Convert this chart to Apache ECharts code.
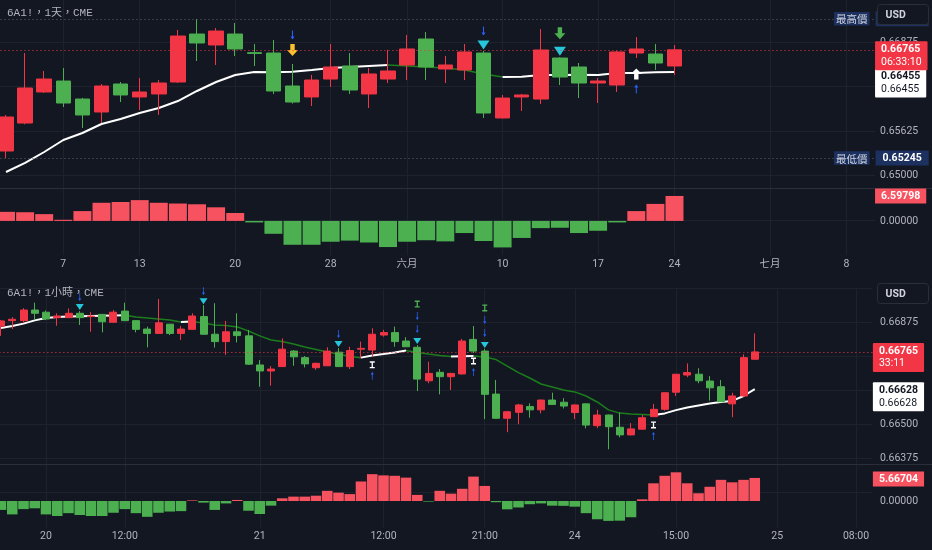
<!DOCTYPE html>
<html><head><meta charset="utf-8">
<script src="https://cdn.jsdelivr.net/npm/echarts@6/dist/echarts.min.js"></script>
<style>html,body{margin:0;padding:0;background:#131722;}#c{width:932px;height:550px;}</style>
</head><body><div id="c"></div>
<script>
// ---------------- DAILY (1天) ----------------
const dailyDates = ['05-02','05-03','05-06','05-07','05-08','05-09','05-10','05-13','05-14','05-15','05-16','05-17','05-20','05-21','05-22','05-23','05-24','05-28','05-29','05-30','05-31','06-03','06-04','06-05','06-06','06-07','06-10','06-11','06-12','06-13','06-14','06-17','06-18','06-20','06-21','06-24','06-25','06-26','06-27','06-28','07-01','07-02','07-03','07-05','07-08','07-09'];
const dailyTickLabels = {'05-07':'7','05-13':'13','05-20':'20','05-28':'28','06-03':'六月','06-10':'10','06-17':'17','06-24':'24','07-01':'七月','07-08':'8'};
const dailyOpen  = [0.65344,0.65737,0.66173,0.66327,0.66074,0.65892,0.66285,0.66103,0.66145,0.66313,0.66987,0.66833,0.66987,0.66725,0.66720,0.66257,0.66103,0.66355,0.66538,0.66145,0.66355,0.66552,0.66917,0.66496,0.66482,0.66720,0.65808,0.66103,0.66074,0.66650,0.66524,0.66299,0.66271,0.66720,0.66706,0.66538];
const dailyClose = [0.65822,0.66229,0.66355,0.66018,0.65850,0.66257,0.66131,0.66173,0.66299,0.66959,0.66861,0.67029,0.66777,0.66715,0.66187,0.66032,0.66341,0.66524,0.66201,0.66426,0.66468,0.66777,0.66524,0.66552,0.66735,0.65878,0.66088,0.66131,0.66763,0.66383,0.66299,0.66327,0.66735,0.66777,0.66580,0.66765];
const dailyLow   = [0.65245,0.65720,0.66160,0.65962,0.65667,0.65737,0.66032,0.65920,0.65850,0.66300,0.66608,0.66552,0.66678,0.66538,0.66145,0.66010,0.65976,0.66243,0.66145,0.65948,0.66299,0.66341,0.66341,0.66299,0.66341,0.65808,0.65800,0.65906,0.66004,0.66271,0.66088,0.66018,0.66173,0.66650,0.66482,0.66412];
const dailyHigh  = [0.65850,0.66720,0.66468,0.66510,0.66090,0.66285,0.66313,0.66369,0.66341,0.67044,0.67200,0.67072,0.67142,0.66847,0.66903,0.66566,0.66412,0.66847,0.66720,0.66510,0.66763,0.66973,0.67015,0.66678,0.66847,0.66750,0.66131,0.66145,0.67058,0.66660,0.66580,0.66369,0.66750,0.66945,0.66847,0.66833];
const dailyMA    = [0.65049,0.65176,0.65330,0.65499,0.65597,0.65723,0.65794,0.65878,0.65948,0.66046,0.66187,0.66313,0.66412,0.66454,0.66450,0.66458,0.66482,0.66510,0.66524,0.66538,0.66552,0.66538,0.66524,0.66510,0.66482,0.66426,0.66383,0.66388,0.66412,0.66410,0.66414,0.66412,0.66440,0.66438,0.66450,0.66455];
const dailyHist  = [2.4,2.3,1.8,0.3,2.6,4.8,5.0,5.5,4.8,4.6,4.4,3.6,2.1,-0.4,-3.4,-6.3,-6.3,-5.5,-5.2,-5.7,-6.9,-5.5,-5.1,-5.4,-3.2,-5.3,-7.0,-4.5,-1.9,-1.8,-3.2,-2.6,-0.4,2.6,4.5,6.59798];
const dailyYellowSignal = [15];
const dailyBlueAboveFar = [15];
const dailyBlueAboveNear = [25];
const dailyCyanSignal = [25, 29];
const dailyGreenArrow = [29];
const dailyWhiteUp = [33];
const dailyCountdown = '06:33:10';

// ---------------- HOURLY (1小時) ----------------
const hourlyTimes = ['06-19 20:00','06-19 21:00','06-19 22:00','06-19 23:00','06-20 00:00','06-20 06:00','06-20 07:00','06-20 08:00','06-20 09:00','06-20 10:00','06-20 11:00','06-20 12:00','06-20 13:00','06-20 14:00','06-20 15:00','06-20 16:00','06-20 17:00','06-20 18:00','06-20 19:00','06-20 20:00','06-20 21:00','06-20 22:00','06-20 23:00','06-21 00:00','06-21 01:00','06-21 02:00','06-21 03:00','06-21 04:00','06-21 06:00','06-21 07:00','06-21 08:00','06-21 09:00','06-21 10:00','06-21 11:00','06-21 12:00','06-21 13:00','06-21 14:00','06-21 15:00','06-21 16:00','06-21 17:00','06-21 18:00','06-21 19:00','06-21 20:00','06-21 21:00','06-21 22:00','06-21 23:00','06-22 00:00','06-22 01:00','06-22 02:00','06-22 03:00','06-22 04:00','06-24 06:00','06-24 07:00','06-24 08:00','06-24 09:00','06-24 10:00','06-24 11:00','06-24 12:00','06-24 13:00','06-24 14:00','06-24 15:00','06-24 16:00','06-24 17:00','06-24 18:00','06-24 19:00','06-24 20:00','06-24 21:00','06-24 22:00','06-24 23:00','06-25 00:00','06-25 01:00','06-25 02:00','06-25 03:00','06-25 04:00','06-25 06:00','06-25 07:00','06-25 08:00','06-25 09:00'];
const hourlyTickLabels = {'06-20 00:00':'20','06-20 12:00':'12:00','06-21 00:00':'21','06-21 12:00':'12:00','06-21 21:00':'21:00','06-24 06:00':'24','06-24 15:00':'15:00','06-25 00:00':'25','06-25 08:00':'08:00'};
const hourlyOpen  = [0.66860,0.66880,0.66880,0.66919,0.66911,0.66891,0.66891,0.66907,0.66895,0.66903,0.66874,0.66915,0.66880,0.66849,0.66833,0.66867,0.66833,0.66848,0.66895,0.66830,0.66803,0.66839,0.66824,0.66717,0.66695,0.66711,0.66768,0.66744,0.66707,0.66714,0.66764,0.66711,0.66775,0.66772,0.66827,0.66836,0.66805,0.66782,0.66659,0.66690,0.66674,0.66684,0.66811,0.66768,0.66610,0.66521,0.66543,0.66564,0.66552,0.66588,0.66580,0.66542,0.66574,0.66494,0.66533,0.66488,0.66460,0.66481,0.66527,0.66554,0.66617,0.66680,0.66683,0.66658,0.66637,0.66574,0.66603,0.66738];
const hourlyClose = [0.66879,0.66885,0.66919,0.66907,0.66886,0.66897,0.66907,0.66891,0.66897,0.66876,0.66911,0.66880,0.66848,0.66833,0.66872,0.66833,0.66849,0.66897,0.66830,0.66803,0.66839,0.66825,0.66720,0.66695,0.66702,0.66775,0.66747,0.66721,0.66723,0.66768,0.66711,0.66770,0.66778,0.66830,0.66836,0.66803,0.66784,0.66665,0.66686,0.66674,0.66686,0.66805,0.66768,0.66609,0.66521,0.66545,0.66570,0.66552,0.66588,0.66572,0.66566,0.66570,0.66496,0.66533,0.66490,0.66460,0.66482,0.66523,0.66554,0.66615,0.66683,0.66689,0.66659,0.66633,0.66582,0.66603,0.66744,0.66765];
const hourlyLow   = [0.66824,0.66849,0.66871,0.66885,0.66882,0.66861,0.66890,0.66864,0.66839,0.66837,0.66873,0.66879,0.66837,0.66782,0.66832,0.66827,0.66809,0.66847,0.66829,0.66781,0.66754,0.66800,0.66717,0.66637,0.66641,0.66710,0.66714,0.66708,0.66699,0.66713,0.66710,0.66702,0.66742,0.66747,0.66821,0.66784,0.66783,0.66621,0.66650,0.66609,0.66625,0.66682,0.66761,0.66518,0.66520,0.66470,0.66499,0.66523,0.66539,0.66571,0.66557,0.66518,0.66484,0.66485,0.66407,0.66451,0.66458,0.66480,0.66526,0.66549,0.66603,0.66672,0.66650,0.66586,0.66581,0.66525,0.66601,0.66737];
const hourlyHigh  = [0.66882,0.66893,0.66926,0.66946,0.66917,0.66907,0.66925,0.66915,0.66911,0.66904,0.66919,0.66946,0.66881,0.66858,0.66960,0.66868,0.66860,0.66907,0.66937,0.66944,0.66879,0.66907,0.66846,0.66735,0.66713,0.66815,0.66772,0.66750,0.66726,0.66782,0.66779,0.66784,0.66803,0.66852,0.66846,0.66858,0.66819,0.66790,0.66729,0.66702,0.66688,0.66813,0.66860,0.66776,0.66662,0.66548,0.66574,0.66576,0.66590,0.66615,0.66595,0.66572,0.66575,0.66552,0.66535,0.66542,0.66503,0.66533,0.66574,0.66616,0.66684,0.66723,0.66705,0.66676,0.66662,0.66615,0.66756,0.66833];
const hourlyMA    = [0.66853,0.66860,0.66869,0.66881,0.66890,0.66893,0.66895,0.66896,0.66897,0.66898,0.66899,0.66900,0.66893,0.66890,0.66886,0.66882,0.66875,0.66877,0.66871,0.66864,0.66862,0.66857,0.66842,0.66824,0.66809,0.66803,0.66794,0.66783,0.66774,0.66765,0.66757,0.66748,0.66744,0.66752,0.66757,0.66763,0.66770,0.66763,0.66757,0.66752,0.66748,0.66749,0.66750,0.66746,0.66737,0.66713,0.66689,0.66669,0.66647,0.66636,0.66625,0.66618,0.66603,0.66581,0.66552,0.66540,0.66537,0.66535,0.66533,0.66539,0.66551,0.66561,0.66568,0.66575,0.66581,0.66585,0.66603,0.66628];
const hourlyHist  = [-2.2,-3.3,-2.0,-1.8,-3.3,-3.7,-3.0,-3.45,-3.7,-3.7,-2.9,-2.0,-3.0,-3.9,-2.9,-2.6,-2.5,0.15,-0.4,-2.2,-0.6,0.25,-2.4,-3.2,-1.15,0.66,1.07,1.07,1.3,2.5,2.05,1.7,4.8,6.6,6.3,6.2,5.75,1.5,-0.15,2.5,1.8,3.0,6.0,3.7,-0.3,-2.05,-1.6,-0.8,-0.6,-1.15,-1.2,-1.4,-3.0,-4.5,-4.9,-4.85,-4.0,0.4,4.35,6.2,7.06,4.35,1.9,3.5,5.2,4.6,5.2,5.66704];
const hourlyCyanSignal = [7, 18, 30, 37, 43];
const hourlyBlueAbove = [7, 18, 30];
const hourlyStackSignal = [37, 43];
const hourlyBuySignal = [33, 42, 58];
const hourlyCountdown = '33:11';

// ---------------- styling ----------------
const FONT = 'Roboto, "Noto Sans", sans-serif';
const CJK = '"Noto Sans CJK TC", "Noto Sans CJK SC", sans-serif';
const TXT = '#b2b5be';
const GRIDC = '#1e222d';
const UP = '#f23645', DN = '#4caf50', HUP = '#f7525f', HDN = '#4caf50';
const MA_DN = '#1b7d1b';
const CLEAR = 'rgba(0,0,0,0)';
const ARROW_DOWN = 'path://M3,0H7V5H10L5,10L0,5H3Z';
const ARROW_UP = 'path://M5,0L10,5H7V10H3V5H0Z';
const TRI_DOWN = 'path://M0,0H10L5,8Z';
const THIN_DOWN = 'path://M1.5,0H2.5V6H4L2,9L0,6H1.5Z';
const THIN_UP = 'path://M2,0L4,3H2.5V9H1.5V3H0Z';
const I_MARK = 'path://M0,0H6V1.6H3.8V6.4H6V8H0V6.4H2.2V1.6H0Z';

const last = a => a[a.length - 1];
const ohlc = (o, c, l, h) => o.map((v, i) => [v, c[i], l[i], h[i]]);
function maPart(ma, rising) {
  return ma.map((v, i) => {
    const nxt = i < ma.length - 1 && (rising ? ma[i + 1] > v : ma[i + 1] <= v);
    const prv = i > 0 && (rising ? v > ma[i - 1] : v <= ma[i - 1]);
    return (nxt || prv) ? v : null;
  });
}
const histData = vals => vals.map(v => ({ value: v, itemStyle: { color: v >= 0 ? HUP : HDN } }));

function catAxis(gi, data, labels, showLabels) {
  return {
    type: 'category', gridIndex: gi, data, boundaryGap: true,
    axisLine: { show: false }, axisTick: { show: false },
    axisLabel: { show: showLabels, interval: (i, v) => labels[v] !== undefined, formatter: v => labels[v] || '',
      color: TXT, fontSize: 10.5, fontFamily: FONT + ',' + CJK, margin: 4 },
    splitLine: { show: true, alignWithLabel: true, interval: (i, v) => labels[v] !== undefined, lineStyle: { color: GRIDC, width: 1 } }
  };
}
function priceAxis(gi, min, max, interval, lo, hi, margin) {
  return {
    type: 'value', gridIndex: gi, position: 'right', min, max, interval,
    axisLine: { show: false }, axisTick: { show: false },
    axisLabel: { color: TXT, fontSize: 10.5, fontFamily: FONT, margin, formatter: v => (v >= lo && v <= hi) ? v.toFixed(5) : '' },
    splitLine: { show: true, lineStyle: { color: GRIDC } }
  };
}
function histAxis(gi, min, max, interval, margin) {
  return {
    type: 'value', gridIndex: gi, position: 'right', min, max, interval,
    axisLine: { show: false }, axisTick: { show: false },
    axisLabel: { color: TXT, fontSize: 10.5, fontFamily: FONT, margin, formatter: v => Math.abs(v) < 1e-9 ? '0.00000' : '' },
    splitLine: { show: false }
  };
}
function marker(xi, yi, idxs, base, symbol, size, dy, color) {
  return { type: 'scatter', xAxisIndex: xi, yAxisIndex: yi, data: idxs.map(i => [i, base[i]]), symbol, symbolSize: size,
    symbolOffset: [0, dy], itemStyle: { color, opacity: 1 }, silent: true, z: 6, clip: false, animation: false };
}
function priceBox(value, sub, bg, fg, dy) {
  return {
    show: true, position: 'end', distance: 0, offset: [0, dy],
    formatter: () => `{a|${value.toFixed(5)}}\n{b|${sub}}`,
    backgroundColor: bg, padding: [2, 6, 2, 6], borderRadius: 1,
    rich: { a: { color: fg, fontSize: 10.5, fontWeight: 'bold', fontFamily: FONT, lineHeight: 12.5 },
            b: { color: fg, fontSize: 10.5, fontFamily: FONT, lineHeight: 12.5 } }
  };
}
function hlLabel(name, value) {
  return {
    show: true, position: 'end', distance: 0, offset: [-41, 0],
    formatter: () => `{t|${name}}{g|}{v|${value.toFixed(5)}}`,
    rich: { t: { backgroundColor: '#1c3160', color: '#d1d4dc', fontSize: 10.5, fontFamily: CJK, padding: [2, 2, 1, 2] },
            g: { width: 6 },
            v: { backgroundColor: '#1c3160', color: '#ffffff', fontSize: 10.5, fontWeight: 'bold', fontFamily: FONT, padding: [2, 7, 2, 7] } }
  };
}
function oneLineBox(value, bg, dy) {
  return { show: true, position: 'end', distance: 0, offset: [0, dy], formatter: () => value.toFixed(5),
    backgroundColor: bg, color: '#ffffff', fontSize: 10.5, fontWeight: 'bold', fontFamily: FONT, padding: [2, 6, 2, 6] };
}
function mk(data) { return { silent: true, symbol: ['none', 'none'], precision: 6, z: 10, animation: false, data }; }

const dMaxHigh = Math.max(...dailyHigh), dMinLow = Math.min(...dailyLow);

const option = {
  backgroundColor: '#131722',
  animation: false,
  grid: [
    { left: -3.55, top: -2.5, width: 878.6, height: 222.5, outerBoundsMode: 'none', containLabel: false },
    { left: -3.55, top: 188, width: 878.6, height: 67, outerBoundsMode: 'none', containLabel: false },
    { left: -4.625, top: 288, width: 877.5, height: 204, outerBoundsMode: 'none', containLabel: false },
    { left: -4.625, top: 464, width: 877.5, height: 63.4, outerBoundsMode: 'none', containLabel: false }
  ],
  xAxis: [
    catAxis(0, dailyDates, dailyTickLabels, false),
    catAxis(1, dailyDates, dailyTickLabels, true),
    catAxis(2, hourlyTimes, hourlyTickLabels, false),
    catAxis(3, hourlyTimes, hourlyTickLabels, true)
  ],
  yAxis: [
    priceAxis(0, 0.64375, 0.675, 0.00625, 0.6499, 0.6701, 5),
    histAxis(1, -9, 8.7, 9, 5),
    priceAxis(2, 0.6625, 0.67, 0.00125, 0.6637, 0.6688, 7),
    histAxis(3, -6.5, 9.1, 6.5, 7)
  ],
  series: [
    // daily
    { type: 'line', xAxisIndex: 0, yAxisIndex: 0, data: maPart(dailyMA, false), showSymbol: false, z: 2,
      lineStyle: { color: MA_DN, width: 1.5 }, silent: true },
    { type: 'line', xAxisIndex: 0, yAxisIndex: 0, data: maPart(dailyMA, true), showSymbol: false, z: 2,
      lineStyle: { color: '#ffffff', width: 2 }, silent: true,
      markLine: mk([{ yAxis: last(dailyMA), lineStyle: { color: CLEAR, width: 0 }, label: priceBox(last(dailyMA), last(dailyMA).toFixed(5), '#ffffff', '#131722', 11) }]) },
    { type: 'candlestick', xAxisIndex: 0, yAxisIndex: 0, data: ohlc(dailyOpen, dailyClose, dailyLow, dailyHigh), barWidth: 15, z: 3,
      itemStyle: { color: UP, color0: DN, borderColor: UP, borderColor0: DN, borderWidth: 1 }, silent: true,
      markLine: mk([
          { yAxis: dMaxHigh, lineStyle: { color: '#5d606b', type: [1, 3], width: 1 }, label: hlLabel('最高價', dMaxHigh) },
          { yAxis: dMinLow, lineStyle: { color: '#5d606b', type: [1, 3], width: 1 }, label: hlLabel('最低價', dMinLow) },
          { yAxis: last(dailyClose), lineStyle: { color: UP, type: [1, 3], width: 1 }, label: priceBox(last(dailyClose), dailyCountdown, UP, '#ffffff', 6) }
        ]) },
    { type: 'bar', xAxisIndex: 1, yAxisIndex: 1, data: histData(dailyHist), barCategoryGap: '6%', silent: true,
      markLine: mk([{ yAxis: last(dailyHist), lineStyle: { color: CLEAR, width: 0 }, label: oneLineBox(last(dailyHist), HUP, 0) }]) },
    marker(0, 0, dailyYellowSignal, dailyHigh, ARROW_DOWN, [11, 12], -14, '#fbc02d'),
    marker(0, 0, dailyBlueAboveFar, dailyHigh, THIN_DOWN, [4, 9], -29, '#2962ff'),
    marker(0, 0, dailyBlueAboveNear, dailyHigh, THIN_DOWN, [4, 9], -20, '#2962ff'),
    marker(0, 0, dailyCyanSignal, dailyHigh, TRI_DOWN, [12, 9], -6, '#26c6da'),
    marker(0, 0, dailyGreenArrow, dailyHigh, ARROW_DOWN, [11, 12], -24, '#4caf50'),
    marker(0, 0, dailyWhiteUp, dailyLow, ARROW_UP, [11, 11], 16, '#ffffff'),
    marker(0, 0, dailyWhiteUp, dailyLow, THIN_UP, [4, 9], 31, '#2962ff'),
    // hourly
    { type: 'line', xAxisIndex: 2, yAxisIndex: 2, data: maPart(hourlyMA, false), showSymbol: false, z: 2,
      lineStyle: { color: MA_DN, width: 1.5 }, silent: true },
    { type: 'line', xAxisIndex: 2, yAxisIndex: 2, data: maPart(hourlyMA, true), showSymbol: false, z: 2,
      lineStyle: { color: '#ffffff', width: 2 }, silent: true,
      markLine: mk([{ yAxis: last(hourlyMA), lineStyle: { color: CLEAR, width: 0 }, label: priceBox(last(hourlyMA), last(hourlyMA).toFixed(5), '#ffffff', '#131722', 7.5) }]) },
    { type: 'candlestick', xAxisIndex: 2, yAxisIndex: 2, data: ohlc(hourlyOpen, hourlyClose, hourlyLow, hourlyHigh), barWidth: 7.5, z: 3,
      itemStyle: { color: UP, color0: DN, borderColor: UP, borderColor0: DN, borderWidth: 1 }, silent: true,
      markLine: mk([{ yAxis: last(hourlyClose), lineStyle: { color: UP, type: [1, 3], width: 1 }, label: priceBox(last(hourlyClose), hourlyCountdown, UP, '#ffffff', 5.5) }]) },
    { type: 'bar', xAxisIndex: 3, yAxisIndex: 3, data: histData(hourlyHist), barCategoryGap: '6%', silent: true,
      markLine: mk([{ yAxis: last(hourlyHist), lineStyle: { color: CLEAR, width: 0 }, label: oneLineBox(last(hourlyHist), HUP, 1) }]) },
    marker(2, 2, hourlyCyanSignal, hourlyHigh, TRI_DOWN, [8, 6], -4, '#26c6da'),
    marker(2, 2, hourlyBlueAbove, hourlyHigh, THIN_DOWN, [3, 8], -14, '#2962ff'),
    marker(2, 2, hourlyStackSignal, hourlyHigh, THIN_DOWN, [3, 8], -16, '#2962ff'),
    marker(2, 2, hourlyStackSignal, hourlyHigh, THIN_DOWN, [3, 8], -29, '#2962ff'),
    marker(2, 2, hourlyStackSignal, hourlyHigh, I_MARK, [5, 7], -41, '#4caf50'),
    marker(2, 2, hourlyBuySignal, hourlyLow, I_MARK, [5, 7], 8, '#ffffff'),
    marker(2, 2, hourlyBuySignal, hourlyLow, THIN_UP, [3, 8], 19, '#2962ff')
  ],
  graphic: [
    { type: 'line', shape: { x1: 0, y1: 188.5, x2: 932, y2: 188.5 }, style: { stroke: '#2a2e39', lineWidth: 1 }, z: 1, silent: true },
    { type: 'line', shape: { x1: 0, y1: 464.5, x2: 932, y2: 464.5 }, style: { stroke: '#2a2e39', lineWidth: 1 }, z: 1, silent: true },
    { type: 'text', left: 7, top: 8, style: { text: '6A1!，1天，CME', fill: TXT, font: '11px "Liberation Mono", ' + CJK }, z: 100, silent: true },
    { type: 'text', left: 7, top: 288, style: { text: '6A1!，1小時，CME', fill: TXT, font: '11px "Liberation Mono", ' + CJK }, z: 100, silent: true },
    { type: 'group', left: 877, top: 4, z: 100, silent: true, children: [
      { type: 'rect', shape: { x: 0, y: 0, width: 51, height: 20, r: 3 }, style: { fill: '#131722', stroke: '#2a2e39', lineWidth: 1 }, z: 100 },
      { type: 'text', x: 8, y: 5, style: { text: 'USD', fill: '#d1d4dc', font: 'bold 10.5px Roboto' }, z: 101 } ] },
    { type: 'group', left: 877, top: 283, z: 100, silent: true, children: [
      { type: 'rect', shape: { x: 0, y: 0, width: 51, height: 20, r: 3 }, style: { fill: '#131722', stroke: '#2a2e39', lineWidth: 1 }, z: 100 },
      { type: 'text', x: 8, y: 5, style: { text: 'USD', fill: '#d1d4dc', font: 'bold 10.5px Roboto' }, z: 101 } ] }
  ]
};
const chart = echarts.init(document.getElementById('c'), null, { renderer: 'canvas' });
chart.setOption(option);
</script></body></html>
